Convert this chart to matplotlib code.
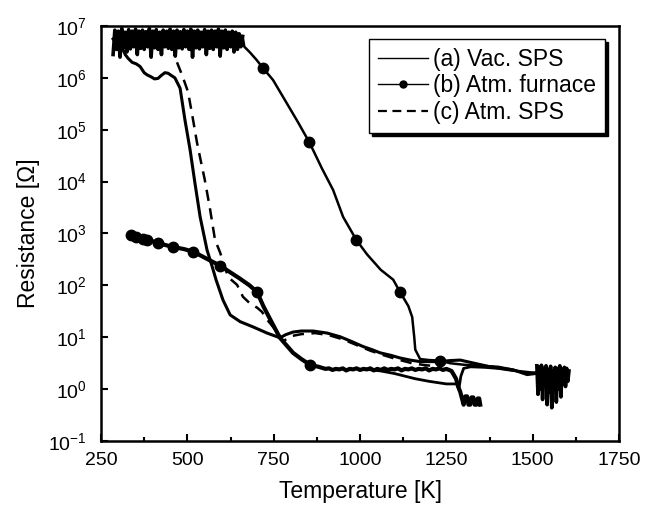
import numpy as np
import matplotlib
matplotlib.use('Agg')
import matplotlib.pyplot as plt
from matplotlib.lines import Line2D
from matplotlib.ticker import MultipleLocator, LogLocator, NullLocator

plt.rcParams['font.family'] = ['Liberation Sans', 'DejaVu Sans']
plt.rcParams['mathtext.fontset'] = 'custom'
plt.rcParams['mathtext.rm'] = 'Liberation Sans'
plt.rcParams['mathtext.it'] = 'Liberation Sans:italic'

# (a) Vac. SPS - heating run (T in K, log10 of R in ohm)
vac_T = [285, 300, 311, 320, 328, 340, 352, 363, 375, 383, 395, 405, 415, 425,
         435, 444, 455, 464, 479, 493, 508, 522, 537, 557, 572, 583, 603, 624,
         653, 690, 731, 768, 785, 806, 830, 864, 905, 942, 975, 1009, 1035,
         1058, 1090, 1116, 1145, 1174, 1200, 1232, 1260, 1290, 1330, 1377,
         1410, 1444, 1484, 1507, 1530, 1560, 1590]
vac_logR = [6.75, 6.62, 6.58, 6.45, 6.38, 6.30, 6.27, 6.22, 6.10, 6.06, 6.02,
            5.98, 5.99, 6.05, 6.10, 6.09, 6.04, 6.00, 5.80, 5.19, 4.61, 3.97,
            3.32, 2.68, 2.36, 2.11, 1.72, 1.43, 1.30, 1.20, 1.08, 0.99, 1.05,
            1.10, 1.12, 1.12, 1.08, 1.01, 0.92, 0.82, 0.76, 0.70, 0.65, 0.60,
            0.56, 0.53, 0.53, 0.53, 0.55, 0.56, 0.50, 0.43, 0.40, 0.37, 0.28,
            0.30, 0.36, 0.20, 0.30]
# (a) cooling run
vac_cool_T = [1560, 1520, 1480, 1440, 1400, 1360, 1320, 1300, 1292, 1286,
              1280, 1250, 1200, 1160, 1130, 1100, 1060, 1020]
vac_cool_logR = [0.25, 0.30, 0.33, 0.36, 0.40, 0.42, 0.43, 0.40, 0.25, 0.00,
                 0.10, 0.10, 0.15, 0.20, 0.25, 0.30, 0.35, 0.38]

# (b) Atm. furnace - heating run, saturated readings at low T
furn_sat_logR = [6.45, 6.92, 6.55, 6.90, 6.40, 6.95, 6.58, 6.88, 6.50, 6.93,
                 6.56, 6.90, 6.60, 6.94, 6.45, 6.90, 6.57, 6.92, 6.55, 6.89,
                 6.60, 6.95, 6.40, 6.90, 6.58, 6.93, 6.55, 6.88, 6.45, 6.92,
                 6.60, 6.90, 6.57, 6.94, 6.55, 6.90, 6.42, 6.92, 6.58, 6.89,
                 6.56, 6.93, 6.60, 6.90, 6.55, 6.94, 6.40, 6.90, 6.58, 6.92,
                 6.56, 6.88, 6.60, 6.93, 6.45, 6.90, 6.57, 6.92, 6.55, 6.90,
                 6.60, 6.94, 6.42, 6.90, 6.58, 6.92, 6.55, 6.88, 6.60, 6.90,
                 6.50, 6.88, 6.55, 6.85, 6.60, 6.80]
furn_heat_T = [665, 680, 700, 719, 748, 780, 820, 853, 864, 890, 922, 951,
               989, 1020, 1060, 1096, 1116, 1140, 1151, 1157, 1160, 1174,
               1200, 1232, 1260, 1300, 1350, 1400, 1440, 1480, 1510]
furn_heat_logR = [6.60, 6.50, 6.35, 6.19, 5.96, 5.60, 5.15, 4.76, 4.61, 4.25,
                  3.84, 3.32, 2.88, 2.60, 2.30, 2.11, 1.87, 1.60, 1.39, 1.00,
                  0.76, 0.58, 0.56, 0.55, 0.50, 0.47, 0.45, 0.43, 0.38, 0.30,
                  0.32]
# noisy readings at the top temperature
furn_top_logR = [0.45, -0.10, 0.42, 0.00, 0.46, -0.20, 0.40, 0.10, 0.45,
                 -0.30, 0.38, -0.05, 0.44, -0.36, 0.35, 0.05, 0.42, -0.25,
                 0.40, 0.00, 0.45, -0.15, 0.38, 0.10, 0.42, 0.05, 0.40, 0.15,
                 0.35]
# (b) cooling run
furn_cool_T = [1348, 1345, 1341, 1337, 1332, 1328, 1323, 1319, 1314, 1310,
               1305, 1300, 1290, 1284, 1278, 1265, 1250, 1240, 1230, 1220,
               1210, 1200, 1190, 1180, 1170, 1160, 1150, 1140, 1130, 1120,
               1110, 1100, 1090, 1080, 1070, 1060, 1050, 1040, 1030, 1020,
               1010, 1000, 990, 980, 970, 960, 950, 940, 930, 920, 910, 900,
               890, 880, 855, 830, 806, 768, 745, 720, 702, 680, 650, 620,
               595, 560, 517, 490, 459, 435, 415, 383, 372, 351, 337]
furn_cool_logR = [-0.30, -0.18, -0.18, -0.30, -0.30, -0.16, -0.16, -0.30,
                  -0.30, -0.14, -0.14, -0.30, -0.05, 0.05, 0.20, 0.35, 0.39,
                  0.37, 0.40, 0.38, 0.39, 0.36, 0.40, 0.38, 0.39, 0.37, 0.40,
                  0.38, 0.39, 0.36, 0.40, 0.38, 0.39, 0.37, 0.40, 0.37, 0.39,
                  0.36, 0.40, 0.38, 0.39, 0.37, 0.40, 0.38, 0.39, 0.36, 0.40,
                  0.38, 0.39, 0.37, 0.40, 0.39, 0.41, 0.43, 0.47, 0.58, 0.70,
                  0.99, 1.28, 1.60, 1.87, 2.00, 2.14, 2.27, 2.38, 2.50, 2.65,
                  2.70, 2.74, 2.78, 2.82, 2.88, 2.90, 2.93, 2.97]
furn_mark_T = [719, 853, 989, 1116, 1232, 855, 702, 595, 517, 459, 415, 383,
               372, 351, 337]
furn_mark_logR = [6.19, 4.76, 2.88, 1.87, 0.55, 0.47, 1.87, 2.38, 2.65, 2.74,
                  2.82, 2.88, 2.90, 2.93, 2.97]

# (c) Atm. SPS
sps_T = [470, 485, 502, 515, 528, 537, 550, 565, 580, 595, 618, 644, 661,
         680, 702, 716, 731, 760, 777, 800, 830, 870, 910, 950, 990, 1030,
         1070, 1110, 1150, 1190, 1230]
sps_logR = [6.30, 6.05, 5.73, 5.25, 4.75, 4.46, 4.05, 3.50, 2.88, 2.63, 2.16,
            2.01, 1.78, 1.66, 1.57, 1.49, 1.34, 1.10, 0.92, 1.02, 1.06, 1.08,
            1.04, 0.96, 0.85, 0.74, 0.65, 0.57, 0.50, 0.46, 0.44]

fig = plt.figure(figsize=(6.53, 5.07), dpi=100)
ax = fig.add_axes([0.1547, 0.1302, 0.7933, 0.8185])

sat_T = np.linspace(285, 660, len(furn_sat_logR))
top_T = np.linspace(1512, 1605, len(furn_top_logR))

ax.plot(vac_T, 10 ** np.array(vac_logR), color='k', lw=2.2)
ax.plot(vac_cool_T, 10 ** np.array(vac_cool_logR), color='k', lw=2.0)

ax.plot(sat_T, 10 ** np.array(furn_sat_logR), color='k', lw=2.6)
ax.plot([660] + furn_heat_T, 10 ** np.array([6.8] + furn_heat_logR),
        color='k', lw=1.8)
ax.plot(top_T, 10 ** np.array(furn_top_logR), color='k', lw=2.6)
ax.plot(furn_cool_T, 10 ** np.array(furn_cool_logR), color='k', lw=3.0)
ax.plot(furn_mark_T, 10 ** np.array(furn_mark_logR), 'o', color='k', ms=7.5)

ax.plot(sps_T, 10 ** np.array(sps_logR), color='k', lw=1.8,
        linestyle=(0, (4.5, 3)))

ax.set_yscale('log')
ax.set_xlim(250, 1750)
ax.set_ylim(1e-1, 1e7)
ax.xaxis.set_major_locator(MultipleLocator(250))
ax.xaxis.set_minor_locator(MultipleLocator(125))
ax.yaxis.set_major_locator(LogLocator(base=10, numticks=20))
ax.yaxis.set_minor_locator(NullLocator())

for s in ax.spines.values():
    s.set_linewidth(1.8)
ax.tick_params(which='major', direction='in', length=5, width=1.5,
               labelsize=14, top=False, right=False)
ax.tick_params(axis='x', which='major', pad=8)
ax.tick_params(axis='y', which='major', pad=10)
ax.tick_params(which='minor', direction='in', length=3, width=1.5,
               top=False, right=False)

ax.set_xlabel('Temperature [K]', fontsize=16.5, labelpad=8)
ax.set_ylabel('Resistance [\u03a9]', fontsize=16.5, labelpad=6)

handles = [Line2D([], [], color='k', lw=1.0),
           Line2D([], [], color='k', lw=1.0, marker='o', ms=5),
           Line2D([], [], color='k', lw=1.6, linestyle=(0, (4, 2.5)))]
labels = ['(a) Vac. SPS', '(b) Atm. furnace', '(c) Atm. SPS']
leg = ax.legend(handles, labels, loc='upper right',
                bbox_to_anchor=(0.973, 0.969), borderaxespad=0,
                fontsize=16.5, frameon=True, fancybox=False,
                shadow={'color': 'k', 'alpha': 1}, handlelength=2.2,
                handletextpad=0.2, labelspacing=0.15, borderpad=0.4)
leg.get_frame().set_edgecolor('k')
leg.get_frame().set_linewidth(1.0)

fig.savefig('out.png', dpi=100)
